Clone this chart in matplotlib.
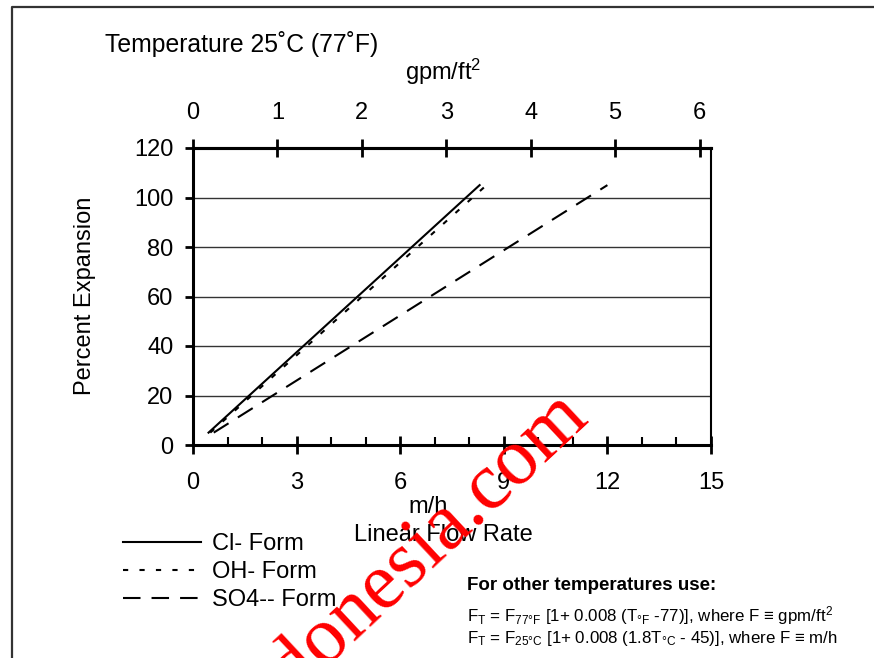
import matplotlib
matplotlib.use("Agg")
import matplotlib.pyplot as plt
from matplotlib.lines import Line2D
from matplotlib.ticker import MultipleLocator

plt.rcParams['font.family'] = ['Liberation Sans', 'DejaVu Sans']
plt.rcParams['mathtext.fontset'] = 'custom'
plt.rcParams['mathtext.rm'] = 'Liberation Sans'
plt.rcParams['mathtext.it'] = 'Liberation Sans:italic'
plt.rcParams['mathtext.bf'] = 'Liberation Sans:bold'

# data (x in m/h, y in % expansion)
cl_x = [0.45, 8.3]
cl_y = [5, 105]
oh_x = [0.5, 8.5]
oh_y = [5, 105]
so4_x = [0.6, 12.0]
so4_y = [5, 105]

labels = ['Cl- Form', 'OH- Form', 'SO4-- Form']
x_ticks = [0, 3, 6, 9, 12, 15]
y_ticks = [0, 20, 40, 60, 80, 100, 120]
top_ticks = [0, 1, 2, 3, 4, 5, 6]
GPM_TO_MH = 2.445

W, H = 874, 658
fig = plt.figure(figsize=(W / 100, H / 100), dpi=100)
ax = fig.add_axes([193 / W, 1 - 445 / H, (711 - 193) / W, (445 - 148) / H])

ax.plot(cl_x, cl_y, color='black', lw=1.5, label=labels[0])
ax.plot(oh_x, oh_y, color='black', lw=1.5, dashes=[2.5, 5.4], label=labels[1])
ax.plot(so4_x, so4_y, color='black', lw=1.5, dashes=[8.4, 5.3], label=labels[2])

ax.set_xlim(0, 15)
ax.set_ylim(0, 120)
ax.set_xticks(x_ticks)
ax.xaxis.set_minor_locator(MultipleLocator(1))
ax.set_yticks(y_ticks)
ax.yaxis.grid(True, color='#333333', lw=1)
ax.set_axisbelow(True)

ax.tick_params(axis='x', which='major', direction='inout', length=13, width=2,
               labelsize=17, pad=13)
ax.tick_params(axis='x', which='minor', direction='in', length=6, width=1.5)
ax.tick_params(axis='y', direction='out', length=6, width=2, labelsize=17, pad=8)

for s in ['left', 'bottom', 'top']:
    ax.spines[s].set_linewidth(2.2)
ax.spines['right'].set_linewidth(1.5)

sec = ax.secondary_xaxis('top', functions=(lambda v: v / GPM_TO_MH,
                                           lambda v: v * GPM_TO_MH))
sec.set_xticks(top_ticks)
sec.tick_params(direction='inout', length=13, width=2, labelsize=17, pad=11)
sec.spines['top'].set_linewidth(2.2)

# axis titles
fig.text(105 / W, 1 - 44 / H, 'Temperature 25˚C (77˚F)', fontsize=17.8,
         ha='left', va='center')
fig.text(443 / W, 1 - 72 / H, 'gpm/ft$^2$', fontsize=17, ha='center', va='center')
fig.text(428 / W, 1 - 507 / H, 'm/h', fontsize=17, ha='center', va='center')
fig.text(443 / W, 1 - 535 / H, 'Linear Flow Rate', fontsize=17, ha='center',
         va='center')
fig.text(85 / W, 1 - 296 / H, 'Percent Expansion', fontsize=17, rotation=90,
         ha='center', va='center')

ax.legend(loc='upper left', bbox_to_anchor=(123 / W, 1 - 533 / H),
          bbox_transform=fig.transFigure, frameon=False, fontsize=17,
          handlelength=3.3, handletextpad=0.45, labelspacing=0.26, borderpad=0,
          borderaxespad=0)

# note on temperature correction
fig.text(467 / W, 1 - 586 / H, 'For other temperatures use:', fontsize=13.5,
         fontweight='bold', ha='left', va='center')
fig.text(467 / W, 1 - 616 / H,
         r'F$_\mathrm{T}$ = F$_\mathrm{77°F}$ [1+ 0.008 (T$_\mathrm{°F}$ -77)], '
         r'where F ≡ gpm/ft$^2$', fontsize=12.2, ha='left', va='center')
fig.text(467 / W, 1 - 639 / H,
         r'F$_\mathrm{T}$ = F$_\mathrm{25°C}$ [1+ 0.008 (1.8T$_\mathrm{°C}$ - 45)], '
         r'where F ≡ m/h', fontsize=12.2, ha='left', va='center')

# page frame (left and top edges only)
fig.add_artist(Line2D([12 / W, 12 / W, 1], [0, 1 - 7 / H, 1 - 7 / H],
                      transform=fig.transFigure, color='#333333', lw=1.6))

# watermark
fig.text(590 / W, 1 - 420 / H, 'indonesia.com', color='red', fontsize=58,
         family='Liberation Serif', rotation=43, rotation_mode='anchor',
         ha='right', va='baseline')

fig.savefig('out.png', dpi=100)
